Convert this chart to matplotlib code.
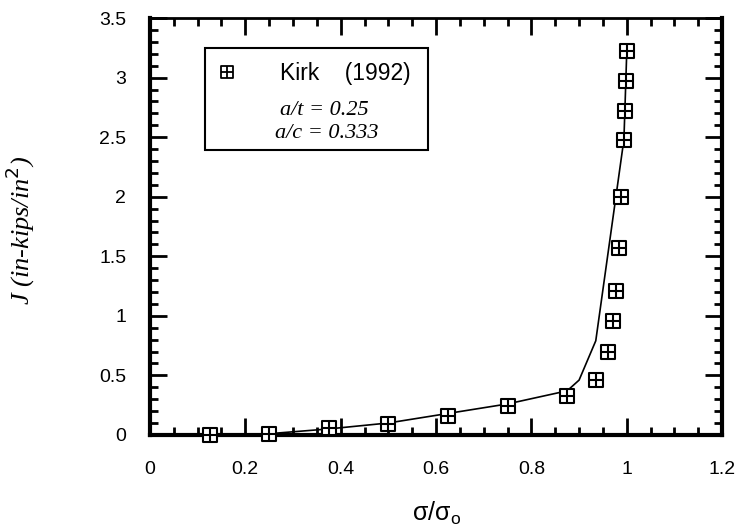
import matplotlib
matplotlib.use('Agg')
import matplotlib.pyplot as plt
from matplotlib.path import Path
from matplotlib.patches import Rectangle
from matplotlib.ticker import MultipleLocator

# Kirk (1992) data points
sig = [0.125, 0.25, 0.375, 0.5, 0.625, 0.75, 0.875, 0.935, 0.96, 0.971,
       0.977, 0.983, 0.988, 0.994, 0.996, 0.998, 1.0]
J_pts = [0.0, 0.01, 0.06, 0.09, 0.16, 0.24, 0.33, 0.46, 0.70, 0.96,
         1.21, 1.57, 2.0, 2.48, 2.72, 2.97, 3.22]

# solid curve
sig_line = [0.125, 0.25, 0.375, 0.5, 0.625, 0.75, 0.875, 0.90, 0.935,
            0.994, 0.996, 0.998, 1.0]
J_line = [0.0, 0.01, 0.05, 0.10, 0.18, 0.26, 0.37, 0.46, 0.79,
          2.48, 2.72, 2.97, 3.22]

xticks = [0, 0.2, 0.4, 0.6, 0.8, 1.0, 1.2]
xlabels = ['0', '0.2', '0.4', '0.6', '0.8', '1', '1.2']
yticks = [0, 0.5, 1, 1.5, 2, 2.5, 3, 3.5]
ylabels = ['0', '0.5', '1', '1.5', '2', '2.5', '3', '3.5']

# square with a cross inside
verts = [(-1, -1), (1, -1), (1, 1), (-1, 1), (-1, -1),
         (0, -1), (0, 1), (-1, 0), (1, 0)]
codes = [Path.MOVETO, Path.LINETO, Path.LINETO, Path.LINETO, Path.CLOSEPOLY,
         Path.MOVETO, Path.LINETO, Path.MOVETO, Path.LINETO]
box_plus = Path(verts, codes)

fig = plt.figure(figsize=(7.46, 5.31), dpi=100)
ax = fig.add_axes([0.201, 0.181, 0.767, 0.785])

ax.plot(sig_line, J_line, color='black', lw=1.2, zorder=2)
ax.plot(sig, J_pts, linestyle='none', marker=box_plus, markersize=10,
        markerfacecolor='white', markeredgecolor='black',
        markeredgewidth=1.5, zorder=3, clip_on=False)

ax.set_xlim(0, 1.2)
ax.set_ylim(0, 3.5)
ax.set_xticks(xticks)
ax.set_xticklabels(xlabels, family='Liberation Sans')
ax.set_yticks(yticks)
ax.set_yticklabels(ylabels, family='Liberation Sans')
ax.xaxis.set_minor_locator(MultipleLocator(0.05))
ax.yaxis.set_minor_locator(MultipleLocator(0.1))
ax.tick_params(which='both', direction='in', top=True, right=True,
               width=2, colors='black')
ax.tick_params(which='major', length=12, labelsize=14)
ax.tick_params(axis='x', which='major', pad=19)
ax.tick_params(axis='y', which='major', pad=17)
ax.tick_params(which='minor', length=6)

for side in ['left', 'bottom', 'right']:
    ax.spines[side].set_linewidth(3)
ax.spines['top'].set_linewidth(2)

ax.set_xlabel(r'$\mathregular{\sigma/\sigma_o}$', fontsize=18,
              family='Liberation Sans', va='top')
ax.xaxis.set_label_coords(0.5, -0.155)
ax.set_ylabel(r'J (in-kips/in$^2$)', fontsize=19,
              family='Liberation Serif', style='italic')
ax.yaxis.set_label_coords(-0.198, 0.49)

# legend box
ax.add_patch(Rectangle((0.096, 0.683), 0.39, 0.245, transform=ax.transAxes,
                       fill=False, edgecolor='black', lw=1.5))
ax.plot([0.135], [0.870], transform=ax.transAxes, linestyle='none',
        marker=box_plus, markersize=9, markerfacecolor='white',
        markeredgecolor='black', markeredgewidth=1.3)
ax.text(0.227, 0.868, 'Kirk    (1992)', transform=ax.transAxes,
        fontsize=16.5, family='Liberation Sans', va='center')
ax.text(0.304, 0.779, 'a/t = 0.25', transform=ax.transAxes, fontsize=16,
        family='Liberation Serif', style='italic', va='center', ha='center')
ax.text(0.309, 0.724, 'a/c = 0.333', transform=ax.transAxes, fontsize=16,
        family='Liberation Serif', style='italic', va='center', ha='center')

fig.savefig('out.png', dpi=100)
